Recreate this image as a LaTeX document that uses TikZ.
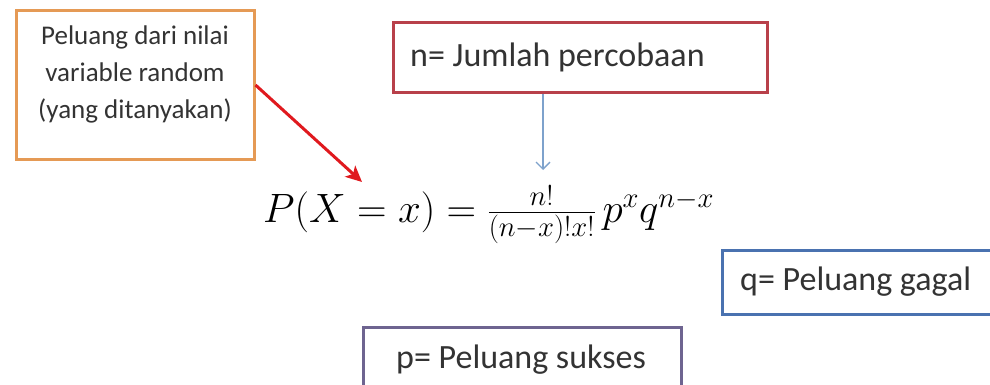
\RequirePackage{fix-cm}
\documentclass[tikz,border=0pt]{standalone}
\usepackage{fontspec}
\setmainfont{Carlito}
\usetikzlibrary{arrows.meta}
\definecolor{txt}{HTML}{333333}
\definecolor{orangeb}{HTML}{E59A55}
\definecolor{redb}{HTML}{B8404A}
\definecolor{blueb}{HTML}{4A72B0}
\definecolor{purpb}{HTML}{6E6490}
\definecolor{arrred}{HTML}{E0191E}
\definecolor{arrblue}{HTML}{7EA2CC}
\tikzset{
  box/.style={draw, line width=3pt, fill=white, inner sep=0pt},
  lbl/.style={text=txt, inner sep=0pt, font=\fontsize{34}{38}\selectfont},
}
\begin{document}
\begin{tikzpicture}[x=1pt,y=-1pt]
\useasboundingbox (0,0) rectangle (990,385);
\fill[white] (0,0) rectangle (990,385);
% boxes
\node[box, draw=orangeb, minimum width=238pt, minimum height=148pt] (orange) at (135,85) {};
\node[box, draw=redb, minimum width=374pt, minimum height=70pt] (nbox) at (580,58) {};
\node[box, draw=blueb, minimum width=278pt, minimum height=64pt] (qbox) at (861,282) {};
\node[box, draw=purpb, minimum width=318pt, minimum height=68pt] (pbox) at (522,361) {};
% texts
\node[text=txt, inner sep=0pt, anchor=north, align=center,
      font=\fontsize{27}{37}\selectfont] (otext) at (135,26)
  {Peluang dari nilai\\variable random\\(yang ditanyakan)};
\node[lbl, anchor=west] (ntext) at (410,57) {n= Jumlah percobaan};
\node[lbl, anchor=west] (qtext) at (740,282) {q= Peluang gagal};
\node[lbl] (ptext) at (521,360) {p= Peluang sukses};
% formula
\node[anchor=base west, inner sep=0pt, text=black, font=\fontsize{41}{48}\selectfont] (formula) at (263,222)
  {$P(X=x)=\frac{n!}{(n-x)!x!}\,p^{x}q^{n-x}$};
% arrows
\coordinate (ptip) at (362,182);
\draw[arrred, line width=3pt, -{Stealth[length=16pt,width=15pt,inset=4pt]}] (orange.east) -- (ptip);
\coordinate (ntip) at (543,170);
\draw[arrblue, line width=1.3pt, -{Straight Barb[length=7pt,width=14pt]}] (nbox.south -| ntip) -- (ntip);
\end{tikzpicture}
\end{document}
